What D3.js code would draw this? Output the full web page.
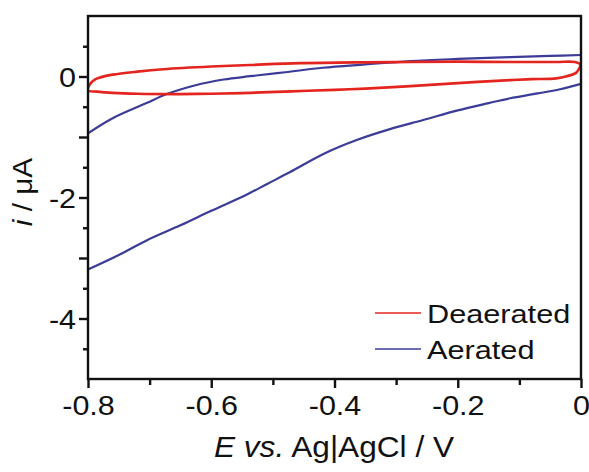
<!DOCTYPE html>
<html>
<head>
<meta charset="utf-8">
<style>
body { margin: 0; background: #fff; }
text { font-family: "Liberation Sans", Arial, sans-serif; fill: #111; }
</style>
</head>
<body>
<div id="container"></div>
<script src="https://cdnjs.cloudflare.com/ajax/libs/d3/7.8.5/d3.min.js"></script>
<script>
// Deaerated CV: one closed loop, starting at E = 0, lower branch first.
const deaeratedE = [0, -0.008, -0.023, -0.04, -0.08, -0.115, -0.2, -0.277, -0.35, -0.4, -0.47, -0.537, -0.6, -0.65, -0.72, -0.76, -0.785, -0.8,
    -0.797, -0.789, -0.78, -0.76, -0.72, -0.678, -0.6, -0.537, -0.456, -0.35, -0.277, -0.2, -0.115, -0.04, -0.01, 0];
const deaeratedI = [0.2, 0.06, 0.005, -0.03, -0.045, -0.06, -0.11, -0.16, -0.2, -0.22, -0.245, -0.27, -0.285, -0.29, -0.285, -0.27, -0.25, -0.23,
    -0.13, -0.05, -0.015, 0.03, 0.08, 0.12, 0.165, 0.19, 0.22, 0.235, 0.24, 0.245, 0.24, 0.24, 0.24, 0.2];

// Aerated CV: cathodic sweep 0 -> -0.8, then back to 0.
const aeratedE = [0, -0.034, -0.07, -0.115, -0.15, -0.2, -0.256, -0.31, -0.364, -0.418, -0.472, -0.51, -0.542, -0.6, -0.65, -0.705, -0.75, -0.8,
    -0.8, -0.76, -0.705, -0.672, -0.624, -0.58, -0.537, -0.48, -0.419, -0.35, -0.277, -0.2, -0.115, -0.05, 0];
const aeratedI = [-0.12, -0.21, -0.28, -0.36, -0.44, -0.56, -0.72, -0.87, -1.05, -1.28, -1.58, -1.78, -1.95, -2.22, -2.46, -2.71, -2.95, -3.19,
    -0.94, -0.69, -0.44, -0.29, -0.14, -0.05, 0.005, 0.07, 0.145, 0.2, 0.255, 0.29, 0.32, 0.34, 0.355];

const seriesNames = ["Deaerated", "Aerated"];
const xTicks = [-0.8, -0.6, -0.4, -0.2, 0];
const xMinorTicks = [-0.7, -0.5, -0.3, -0.1];
const yTicks = [0, -2, -4];
const yMidTicks = [-1, -3];
const yMinorTicks = [0.5, -0.5, -1.5, -2.5, -3.5, -4.5];

const width = 589;
const height = 472;
const marginTop = 16;
const marginRight = 8;
const marginBottom = 93;
const marginLeft = 88;

const colors = ["#e4251f", "#3b3b98"];

const x = d3.scaleLinear()
    .domain([-0.8, 0])
    .range([marginLeft, width - marginRight]);

const y = d3.scaleLinear()
    .domain([-5, 1])
    .range([height - marginBottom, marginTop]);

const line = d3.line()
    .x(d => x(d[0]))
    .y(d => y(d[1]))
    .curve(d3.curveCatmullRom.alpha(0.5));

// Split a sweep where the potential repeats (the switching point jump).
function branches(E, I) {
    const pts = d3.zip(E, I);
    const out = [[pts[0]]];
    for (let k = 1; k < pts.length; k++) {
        if (E[k] === E[k - 1]) out.push([]);
        out[out.length - 1].push(pts[k]);
    }
    return out;
}

const svg = d3.create("svg")
    .attr("width", width)
    .attr("height", height);

svg.append("clipPath")
    .attr("id", "plot")
  .append("rect")
    .attr("x", marginLeft)
    .attr("y", marginTop)
    .attr("width", width - marginLeft - marginRight)
    .attr("height", height - marginTop - marginBottom);

const series = [branches(deaeratedE, deaeratedI), branches(aeratedE, aeratedI)];
const plot = svg.append("g").attr("clip-path", "url(#plot)");

// Draw aerated first, deaerated on top.
[1, 0].forEach(s => {
    plot.append("g")
      .selectAll("path")
      .data(series[s])
      .join("path")
        .attr("fill", "none")
        .attr("stroke", colors[s])
        .attr("stroke-width", s === 0 ? 2.7 : 2.2)
        .attr("stroke-linejoin", "round")
        .attr("d", line);
});

// Axes
svg.append("g")
    .attr("transform", `translate(0,${height - marginBottom})`)
    .call(d3.axisBottom(x).tickValues(xTicks).tickSize(9).tickPadding(8)
        .tickSizeOuter(0).tickFormat(d => String(d)));
svg.append("g")
    .attr("transform", `translate(0,${height - marginBottom})`)
    .call(d3.axisBottom(x).tickValues(xMinorTicks).tickSize(6).tickFormat(""));

const yAxis = svg.append("g")
    .attr("transform", `translate(${marginLeft},0)`)
    .call(d3.axisLeft(y).tickValues(yTicks).tickSize(9).tickPadding(3)
        .tickSizeOuter(0).tickFormat(d => String(d)));
svg.append("g")
    .attr("transform", `translate(${marginLeft},0)`)
    .call(d3.axisLeft(y).tickValues(yMidTicks).tickSize(9).tickFormat(""));
svg.append("g")
    .attr("transform", `translate(${marginLeft},0)`)
    .call(d3.axisLeft(y).tickValues(yMinorTicks).tickSize(5).tickFormat(""));

svg.selectAll(".domain").remove();
svg.selectAll(".tick line").attr("stroke", "#111").attr("stroke-width", 2.4);
svg.selectAll(".tick text")
    .attr("font-family", null)
    .attr("fill", null)
    .style("font-size", "27px");
yAxis.selectAll(".tick text").attr("dy", "0.36em");

// Frame
svg.append("rect")
    .attr("x", marginLeft)
    .attr("y", marginTop)
    .attr("width", width - marginLeft - marginRight)
    .attr("height", height - marginTop - marginBottom)
    .attr("fill", "none")
    .attr("stroke", "#111")
    .attr("stroke-width", 2.4);

// Axis titles
const xTitle = svg.append("text")
    .attr("x", 334)
    .attr("y", 457)
    .attr("text-anchor", "middle")
    .style("font-size", "29px");
xTitle.append("tspan").attr("font-style", "italic").text("E vs.");
xTitle.append("tspan").text(" Ag|AgCl / V");

const yTitle = svg.append("text")
    .attr("transform", "translate(32,192) rotate(-90)")
    .attr("text-anchor", "middle")
    .style("font-size", "27px");
yTitle.append("tspan").attr("font-style", "italic").text("i");
yTitle.append("tspan").text(" / μA");

// Legend
const legend = svg.append("g")
    .selectAll("g")
    .data(seriesNames)
    .join("g")
    .attr("transform", (d, i) => `translate(375,${313 + i * 36})`);
legend.append("line")
    .attr("x1", 0)
    .attr("x2", 46)
    .attr("stroke", (d, i) => colors[i])
    .attr("stroke-width", 1.6);
legend.append("text")
    .attr("x", 52)
    .attr("y", 10)
    .style("font-size", "26px")
    .text(d => d);

document.getElementById("container").append(svg.node());

// The reference type is set a bit wide; stretch the glyphs to match.
function stretch(sel, k) {
    sel.each(function() {
        const w = this.getComputedTextLength();
        d3.select(this).attr("textLength", w * k).attr("lengthAdjust", "spacingAndGlyphs");
    });
}
stretch(svg.selectAll(".tick text"), 1.13);
stretch(xTitle, 1.09);
stretch(yTitle, 1.1);
stretch(legend.selectAll("text"), 1.18);
</script>
</body>
</html>
